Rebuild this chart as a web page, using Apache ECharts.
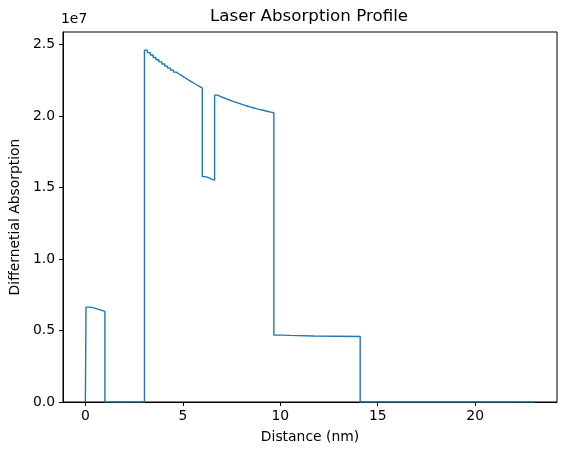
<!DOCTYPE html>
<html>
<head>
<meta charset="utf-8">
<script src="https://cdn.jsdelivr.net/npm/echarts@6/dist/echarts.min.js"></script>
<style>
  html, body { margin: 0; padding: 0; background: #fff; }
  #main { width: 567px; height: 455px; }
</style>
</head>
<body>
<div id="main"></div>
<script>
// bin edges (nm) and absorption per bin
const edges = [
  0.0, 0.03, 0.27, 0.51, 0.76, 1.0,
  3.03, 3.18, 3.33, 3.48, 3.62, 3.77, 3.92, 4.07, 4.22, 4.37, 4.52,
  4.66, 4.81, 4.96, 5.11, 5.26, 5.41, 5.56, 5.70, 5.85, 6.0,
  6.16, 6.32, 6.47, 6.63,
  6.78, 6.93, 7.09, 7.24, 7.39, 7.54, 7.69, 7.85, 8.0, 8.15,
  8.30, 8.45, 8.61, 8.76, 8.91, 9.06, 9.21, 9.37, 9.52, 9.67,
  10.1, 10.52, 11.7, 12.9, 14.1,
  23.05
];
const absorb = [
  0, 6640000, 6550000, 6450000, 6340000,
  0,
  24620000, 24450000, 24280000, 24110000, 23950000, 23800000, 23650000, 23500000, 23360000, 23220000,
  23080000, 22950000, 22820000, 22690000, 22560000, 22440000, 22320000, 22200000, 22080000, 21960000,
  15770000, 15700000, 15600000, 15520000,
  21470000, 21380000, 21290000, 21210000, 21130000, 21050000, 20980000, 20910000, 20840000, 20770000,
  20710000, 20650000, 20590000, 20530000, 20480000, 20430000, 20380000, 20330000, 20280000, 20240000,
  4680000, 4660000, 4620000, 4600000, 4580000,
  0
];
const xTicks = [0, 5, 10, 15, 20];

// stairs outline from edges/values
let pts = [];
for (let i = 0; i < absorb.length; i++) {
  pts.push([edges[i], absorb[i]]);
  pts.push([edges[i + 1], absorb[i]]);
}

const font = 'DejaVu Sans';
let myChart = echarts.init(document.getElementById('main'));
let option = {
  animation: false,
  backgroundColor: '#fff',
  grid: {
    left: 62, right: 10, top: 32, bottom: 53,
    show: true, borderColor: '#000', borderWidth: 1, backgroundColor: 'transparent'
  },
  graphic: [
    { type: 'text', x: 309, y: 8, style: { text: 'Laser Absorption Profile', font: '16.7px ' + font, fill: '#000', textAlign: 'center' } },
    { type: 'text', x: 61, y: 12, style: { text: '1e7', font: '13.9px ' + font, fill: '#000', textAlign: 'left' } }
  ],
  xAxis: {
    type: 'value',
    min: -1.15, max: 24.2,
    name: 'Distance (nm)',
    nameLocation: 'middle',
    nameGap: 28,
    nameTextStyle: { fontFamily: font, fontSize: 13.9, color: '#000' },
    axisLine: { show: true, onZero: false, lineStyle: { color: '#000', width: 1 } },
    axisTick: { show: true, length: 4, lineStyle: { color: '#000' }, customValues: xTicks },
    axisLabel: { fontFamily: font, fontSize: 13.9, color: '#000', margin: 7, customValues: xTicks },
    splitLine: { show: false }
  },
  yAxis: {
    type: 'value',
    min: 0, max: 25890000, interval: 5000000,
    name: 'Differnetial Absorption',
    nameLocation: 'middle',
    nameGap: 36,
    nameTextStyle: { fontFamily: font, fontSize: 13.9, color: '#000' },
    axisLine: { show: true, onZero: false, lineStyle: { color: '#000', width: 1 } },
    axisTick: { show: true, length: 4, lineStyle: { color: '#000' } },
    axisLabel: {
      fontFamily: font, fontSize: 13.9, color: '#000', margin: 8, showMaxLabel: false,
      formatter: function (v) { return (v / 1e7).toFixed(1); }
    },
    splitLine: { show: false }
  },
  series: [{
    type: 'line',
    data: pts,
    symbol: 'none',
    lineStyle: { color: '#1f77b4', width: 1.4 },
    clip: true
  }]
};
myChart.setOption(option);
</script>
</body>
</html>
